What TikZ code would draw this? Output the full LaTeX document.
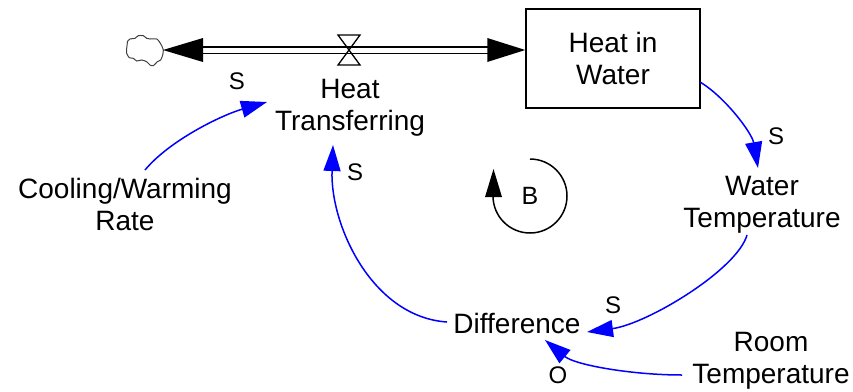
\documentclass[tikz,border=0pt]{standalone}
\usepackage{fontspec}
\setmainfont{Liberation Sans}
\usetikzlibrary{arrows.meta,calc}
\definecolor{linkblue}{RGB}{0,0,255}
\begin{document}
\begin{tikzpicture}[x=1pt,y=-1pt,
  lbl/.style={font=\fontsize{28}{32}\selectfont, align=center, inner sep=0pt},
  pol/.style={font=\fontsize{24}{28}\selectfont, inner sep=0pt},
  link/.style={draw=linkblue, line width=1.5pt, -{Triangle[length=26pt,width=17pt]}},
  stockbox/.style={draw, line width=1.5pt, minimum width=174pt, minimum height=99pt, inner sep=0pt, align=center, font=\fontsize{28}{32}\selectfont},
  pipe/.style={draw, line width=1.5pt, double, double distance=5pt},
  valvestyle/.style={draw, line width=1.3pt},
  cloudstyle/.style={draw=black!75, line width=1pt},
  loopstyle/.style={draw, line width=1.5pt}
]
\useasboundingbox (0,0) rectangle (853,391);
\fill[white] (0,0) rectangle (853,391);

% text nodes
\node[lbl] (ht) at (350,108) {Heat\\Transferring};
\node[lbl] (cool) at (125,204) {Cooling/Warming\\Rate};
\node[stockbox] (stock) at (613,58.5) {Heat in\\Water};
\node[lbl] (wt) at (762,204.5) {Water\\Temperature};
\node[lbl] (diff) at (517,323) {Difference};
\node[lbl] (room) at (771,361) {Room\\Temperature};

% polarity labels
\node[pol] (s1) at (237,81) {S};
\node[pol] (s2) at (776,136) {S};
\node[pol] (s3) at (613,305) {S};
\node[pol] (s5) at (355,172) {S};
\node[pol] (o4) at (558,375) {O};

% cloud and flow
\coordinate (cloud) at (163,50);
\coordinate (valve) at (349,50);
\draw[cloudstyle] plot[smooth cycle, tension=0.45] coordinates {
 (127.3,41.7) (130,39) (135,38.3) (138.3,35.7) (143.3,35.7) (146.7,38.3)
 (150,39) (156.7,39) (159.3,41.7) (161.7,45.7) (163.3,50) (162.7,55)
 (160.7,60) (157.3,61.7) (153.3,65.7) (150,65) (146.7,61.7) (141.7,60)
 (136.7,61) (133.3,58.3) (129.3,57.7) (126.7,53.3) (126.7,48.3) (127.3,43.3)};
\draw[pipe, shorten <=38pt, shorten >=36pt] (cloud) -- (stock.west |- cloud);
\fill (cloud) -- ++(40,-12) -- ++(0,24) -- cycle;
\fill (stock.west |- cloud) -- ++(-38,-12) -- ++(0,24) -- cycle;
\draw[valvestyle] ($(valve)+(-11,-15)$) -- ($(valve)+(11,-15)$) -- ($(valve)+(-11,15)$) -- ($(valve)+(11,15)$) -- cycle;

% causal links
\draw[link] ($(cool.center)+(20,-34)$) .. controls +(25,-30) and +(-45,13) .. ($(ht.center)+(-83,-6)$);
\draw[link] ($(stock.center)+(87,23.5)$) .. controls +(25,15) and +(-6,-35) .. ($(wt.center)+(-4,-36.5)$);
\draw[link] ($(wt.center)+(-15,30.5)$) .. controls +(-10,35) and +(60,-8) .. ($(diff.center)+(70,9)$);
\draw[link] ($(room.center)+(-89,14)$) .. controls +(-50,0) and +(30,25) .. ($(diff.center)+(28,17)$);
\draw[link] ($(diff.center)+(-70,-1)$) .. controls +(-75,-5) and +(-3,80) .. ($(ht.center)+(-17,37)$);

% loop marker
\node[font=\fontsize{25}{30}\selectfont, inner sep=0pt] (B) at (530,196) {B};
\draw[loopstyle] ($(B.center)+(0,-37)$) arc[start angle=90, end angle=-180, radius=37pt];
\fill ($(B.center)+(-45,1)$) -- ++(17,0) -- ++(-8.5,-28) -- cycle;
\end{tikzpicture}
\end{document}
